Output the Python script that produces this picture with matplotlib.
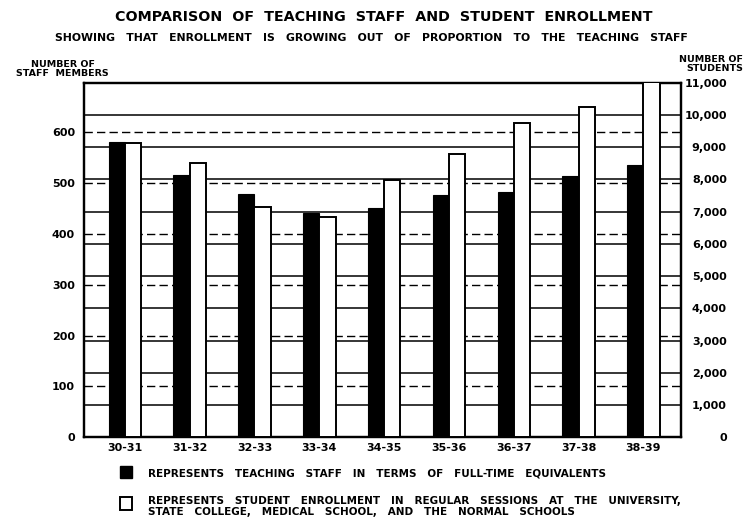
import matplotlib.pyplot as plt
import matplotlib.patches as mpatches
import numpy as np

# years and values
years = ['30-31', '31-32', '32-33', '33-34', '34-35', '35-36', '36-37', '37-38', '38-39']
staff = [580, 515, 479, 440, 451, 476, 483, 514, 535]
students = [9130, 8500, 7150, 6840, 7990, 8800, 9740, 10250, 11100]

staff_ticks = list(range(0, 700, 100))
student_ticks = list(range(0, 12000, 1000))

plt.rcParams['font.family'] = 'DejaVu Sans'

fig = plt.figure(figsize=(7.46, 5.21), dpi=100)
ax = fig.add_axes([0.1126, 0.1607, 0.8003, 0.6806])
ax2 = ax.twinx()

x = np.arange(len(years))
w = 0.25

ax.bar(x - w / 2, staff, width=w, color='black', edgecolor='black', lw=0.8, zorder=3)
ax2.bar(x + w / 2, students, width=w, color='white', edgecolor='black', lw=1.4, zorder=3)

ax.set_xlim(-0.63, 8.58)
ax.set_ylim(0, 697)
ax2.set_ylim(0, 11000)

ax.set_yticks(staff_ticks)
ax2.set_yticks(student_ticks)
ax2.set_yticklabels([f'{v:,}' for v in student_ticks])
ax.set_xticks(x)
ax.set_xticklabels(years)

ax.set_axisbelow(True)
ax2.set_axisbelow(True)
ax.yaxis.grid(True, color='black', linestyle=(0, (6, 3)), lw=1.0)
ax2.yaxis.grid(True, color='black', linestyle='-', lw=1.1)

ax.tick_params(axis='y', length=0, pad=6.5, labelsize=8)
ax.tick_params(axis='x', length=0, pad=4, labelsize=8)
ax2.tick_params(axis='y', length=0, pad=33, labelsize=8)
for lab in ax.get_yticklabels() + ax.get_xticklabels() + ax2.get_yticklabels():
    lab.set_fontweight('bold')
for lab in ax2.get_yticklabels():
    lab.set_horizontalalignment('right')

for a in (ax, ax2):
    for s in a.spines.values():
        s.set_linewidth(1.6)
        s.set_color('black')

# titles and axis headings
fig.text(0.514, 0.968, 'COMPARISON  OF  TEACHING  STAFF  AND  STUDENT  ENROLLMENT',
         ha='center', va='center', fontsize=10.3, fontweight='bold')
fig.text(0.498, 0.927, 'SHOWING   THAT   ENROLLMENT   IS   GROWING   OUT   OF   PROPORTION   TO   THE   TEACHING   STAFF',
         ha='center', va='center', fontsize=7.8, fontweight='bold')
fig.text(0.084, 0.868, 'NUMBER OF\nSTAFF  MEMBERS', ha='center', va='center',
         fontsize=6.8, fontweight='bold', linespacing=1.0)
fig.text(0.996, 0.878, 'NUMBER OF\nSTUDENTS', ha='right', va='center',
         fontsize=6.8, fontweight='bold', linespacing=1.0, multialignment='right')

# legend drawn as patches plus text
fig.patches.append(mpatches.Rectangle((120 / 746, 1 - 478 / 521), 12 / 746, 12 / 521,
                                      transform=fig.transFigure, facecolor='black',
                                      edgecolor='black', figure=fig))
fig.patches.append(mpatches.Rectangle((120 / 746, 1 - 510 / 521), 12 / 746, 13 / 521,
                                      transform=fig.transFigure, facecolor='white',
                                      edgecolor='black', lw=1.4, figure=fig))
fig.text(148 / 746, 1 - 473 / 521, 'REPRESENTS   TEACHING   STAFF   IN   TERMS   OF   FULL-TIME   EQUIVALENTS',
         ha='left', va='center', fontsize=7.5, fontweight='bold')
fig.text(148 / 746, 1 - 506.5 / 521,
         'REPRESENTS   STUDENT   ENROLLMENT   IN   REGULAR   SESSIONS   AT   THE   UNIVERSITY,\n'
         'STATE   COLLEGE,   MEDICAL   SCHOOL,   AND   THE   NORMAL   SCHOOLS',
         ha='left', va='center', fontsize=7.5, fontweight='bold', linespacing=1.1)

fig.savefig('out.png', dpi=100)
